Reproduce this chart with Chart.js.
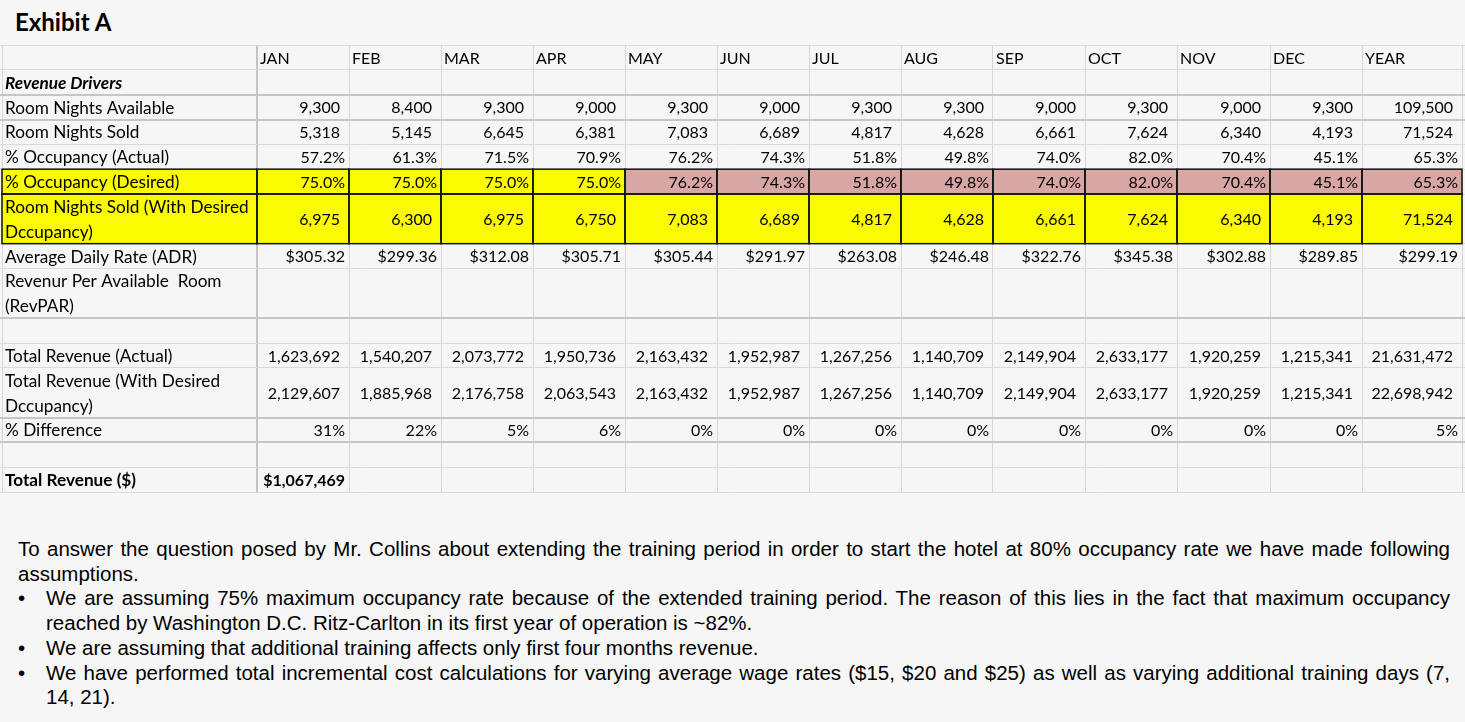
<!DOCTYPE html>
<html>
<head>
<meta charset="utf-8">
<script src="https://cdn.jsdelivr.net/npm/chart.js@4.4.1/dist/chart.umd.min.js"></script>
<style>
  html, body { margin: 0; padding: 0; background: #f6f6f6; }
  body { width: 1465px; height: 722px; position: relative; overflow: hidden; }
  #title { position: absolute; left: 15px; top: 7px; font: bold 24px Lato, "Open Sans", sans-serif; color: #000; }
  #table { position: absolute; left: 0; top: 40px; width: 1465px; height: 460px; }
  #notes { position: absolute; left: 18px; top: 537px; width: 1432px;
    font: 20.5px "Liberation Sans", Arial, sans-serif; line-height: 24.7px; color: #000; }
  #notes .j { display: block; text-align: justify; text-align-last: justify; }
  #notes .l { display: block; text-align: left; }
  #notes .b { position: relative; padding-left: 28px; }
  #notes .b::before { content: "\2022"; position: absolute; left: 0; top: 0; }
</style>
</head>
<body>
<div id="title">Exhibit A</div>
<div id="table"><canvas id="chart"></canvas></div>
<div id="notes">
  <span class="j">To answer the question posed by Mr. Collins about extending the training period in order to start the hotel at 80% occupancy rate we have made following</span>
  <span class="l">assumptions.</span>
  <div class="b">
    <span class="j">We are assuming 75% maximum occupancy rate because of the extended training period. The reason of this lies in the fact that maximum occupancy</span>
    <span class="l">reached by Washington D.C. Ritz-Carlton in its first year of operation is ~82%.</span>
  </div>
  <div class="b"><span class="l">We are assuming that additional training affects only first four months revenue.</span></div>
  <div class="b">
    <span class="j">We have performed total incremental cost calculations for varying average wage rates ($15, $20 and $25) as well as varying additional training days (7,</span>
    <span class="l">14, 21).</span>
  </div>
</div>
<script>
const months = ["JAN", "FEB", "MAR", "APR", "MAY", "JUN", "JUL", "AUG", "SEP", "OCT", "NOV", "DEC", "YEAR"];
const roomNightsAvailable = [9300, 8400, 9300, 9000, 9300, 9000, 9300, 9300, 9000, 9300, 9000, 9300, 109500];
const roomNightsSold = [5318, 5145, 6645, 6381, 7083, 6689, 4817, 4628, 6661, 7624, 6340, 4193, 71524];
const occupancyActual = [57.2, 61.3, 71.5, 70.9, 76.2, 74.3, 51.8, 49.8, 74.0, 82.0, 70.4, 45.1, 65.3];
const occupancyDesired = [75.0, 75.0, 75.0, 75.0, 76.2, 74.3, 51.8, 49.8, 74.0, 82.0, 70.4, 45.1, 65.3];
const roomNightsSoldDesired = [6975, 6300, 6975, 6750, 7083, 6689, 4817, 4628, 6661, 7624, 6340, 4193, 71524];
const averageDailyRate = [305.32, 299.36, 312.08, 305.71, 305.44, 291.97, 263.08, 246.48, 322.76, 345.38, 302.88, 289.85, 299.19];
const revenueActual = [1623692, 1540207, 2073772, 1950736, 2163432, 1952987, 1267256, 1140709, 2149904, 2633177, 1920259, 1215341, 21631472];
const revenueDesired = [2129607, 1885968, 2176758, 2063543, 2163432, 1952987, 1267256, 1140709, 2149904, 2633177, 1920259, 1215341, 22698942];
const percentDifference = [31, 22, 5, 6, 0, 0, 0, 0, 0, 0, 0, 0, 5];
const totalRevenue = [1067469];

// ---- formatting ----
const intFmt = (v) => v.toLocaleString("en-US");
const pct1 = (v) => v.toFixed(1) + "%";
const pct0 = (v) => v + "%";
const usd = (v) => "$" + v.toFixed(2);
const usd0 = (v) => "$" + v.toLocaleString("en-US");

// ---- table layout (x in page pixels, y in row units) ----
const colEdges = [2, 257, 349, 441, 533, 625, 717, 809, 901, 993, 1085, 1177, 1270, 1362, 1462];
const YELLOW = "#fafa00";
const PINK = "#d9a6a6";

const rows = [
  { label: [""], span: 1, header: true },
  { label: ["Revenue Drivers"], span: 1, labelFont: "italic bold" },
  { label: ["Room Nights Available"], span: 1, values: roomNightsAvailable, fmt: intFmt, pad: 9 },
  { label: ["Room Nights Sold"], span: 1, values: roomNightsSold, fmt: intFmt, pad: 9 },
  { label: ["% Occupancy (Actual)"], span: 1, values: occupancyActual, fmt: pct1, pad: 4 },
  { label: ["% Occupancy (Desired)"], span: 1, values: occupancyDesired, fmt: pct1, pad: 4, fill: YELLOW, altFill: PINK, altFrom: 4 },
  { label: ["Room Nights Sold (With Desired", "Dccupancy)"], span: 2, values: roomNightsSoldDesired, fmt: intFmt, pad: 9, fill: YELLOW },
  { label: ["Average Daily Rate (ADR)"], span: 1, values: averageDailyRate, fmt: usd, pad: 4 },
  { label: ["Revenur Per Available  Room", "(RevPAR)"], span: 2 },
  { label: [""], span: 1 },
  { label: ["Total Revenue (Actual)"], span: 1, values: revenueActual, fmt: intFmt, pad: 9 },
  { label: ["Total Revenue (With Desired", "Dccupancy)"], span: 2, values: revenueDesired, fmt: intFmt, pad: 9 },
  { label: ["% Difference"], span: 1, values: percentDifference, fmt: pct0, pad: 4 },
  { label: [""], span: 1 },
  { label: ["Total Revenue ($)"], span: 1, values: totalRevenue, fmt: usd0, pad: 4, labelFont: "bold", valueFont: "bold" },
];

let acc = 0;
rows.forEach((r) => { r.start = acc; acc += r.span; });
const totalUnits = acc;
const rowEdges = [0].concat(rows.map((r) => r.start + r.span));

const thickRows = [2, 3, 11, 15, 16];

const FONT = "Lato, 'Open Sans', sans-serif";
const LABEL_SIZE = 17.2;
const SIZE = 16;

const tablePlugin = {
  id: "tableCells",
  beforeDatasetsDraw(chart) {
    const { ctx, scales: { x, y } } = chart;
    ctx.save();
    rows.forEach((r) => {
      if (!r.fill) return;
      const top = y.getPixelForValue(r.start);
      const bottom = y.getPixelForValue(r.start + r.span);
      for (let c = 0; c < colEdges.length - 1; c++) {
        const left = x.getPixelForValue(colEdges[c]);
        const right = x.getPixelForValue(colEdges[c + 1]);
        ctx.fillStyle = r.altFill && c - 1 >= r.altFrom ? r.altFill : r.fill;
        ctx.fillRect(left, top, right - left, bottom - top);
      }
    });
    ctx.restore();
  },
  afterDatasetsDraw(chart) {
    const { ctx, scales: { x, y } } = chart;
    ctx.save();
    // black borders round the highlighted cells
    ctx.strokeStyle = "#111";
    ctx.lineWidth = 1.5;
    rows.forEach((r) => {
      if (!r.fill) return;
      const top = y.getPixelForValue(r.start);
      const bottom = y.getPixelForValue(r.start + r.span);
      for (let c = 0; c < colEdges.length - 1; c++) {
        const left = x.getPixelForValue(colEdges[c]);
        const right = x.getPixelForValue(colEdges[c + 1]);
        ctx.strokeRect(left, top, right - left, bottom - top);
      }
    });
    // texts
    ctx.fillStyle = "#000";
    ctx.textBaseline = "middle";
    rows.forEach((r) => {
      const top = y.getPixelForValue(r.start);
      const bottom = y.getPixelForValue(r.start + r.span);
      const mid = (top + bottom) / 2 + 1;
      ctx.textAlign = "left";
      ctx.font = (r.labelFont || "") + " " + LABEL_SIZE + "px " + FONT;
      const lh = (bottom - top) / r.label.length;
      r.label.forEach((t, i) => {
        ctx.fillText(t, x.getPixelForValue(colEdges[0]) + 3, top + lh * (i + 0.5) + 1);
      });
      if (r.header) {
        ctx.font = SIZE + "px " + FONT;
        months.forEach((m, c) => {
          ctx.fillText(m, x.getPixelForValue(colEdges[c + 1]) + 3, mid);
        });
      }
      if (r.values) {
        ctx.textAlign = "right";
        ctx.font = (r.valueFont || "") + " " + SIZE + "px " + FONT;
        r.values.forEach((v, c) => {
          ctx.fillText(r.fmt(v), x.getPixelForValue(colEdges[c + 2]) - r.pad, mid);
        });
      }
    });
    ctx.restore();
  },
};

new Chart(document.getElementById("chart"), {
  type: "scatter",
  data: { datasets: [] },
  options: {
    responsive: true,
    maintainAspectRatio: false,
    animation: false,
    events: [],
    layout: { padding: { top: 5, bottom: 8, left: 0, right: 0 } },
    plugins: { legend: { display: false }, tooltip: { enabled: false } },
    scales: {
      x: {
        type: "linear",
        min: 0,
        max: 1465,
        afterBuildTicks: (scale) => { scale.ticks = colEdges.map((v) => ({ value: v })); },
        ticks: { display: false },
        border: { display: false },
        grid: {
          drawTicks: false,
          color: (ctx) => (ctx.tick.value === 257 ? "#c4c4c4" : "#d6d6d6"),
          lineWidth: (ctx) => (ctx.tick.value === 257 ? 2 : 1),
        },
      },
      y: {
        type: "linear",
        min: 0,
        max: totalUnits,
        reverse: true,
        afterBuildTicks: (scale) => { scale.ticks = rowEdges.map((v) => ({ value: v })); },
        ticks: { display: false },
        border: { display: false },
        grid: {
          drawTicks: false,
          color: (ctx) => (thickRows.includes(ctx.tick.value) ? "#c6c6c6" : "#dadada"),
          lineWidth: (ctx) => (thickRows.includes(ctx.tick.value) ? 2 : 1),
        },
      },
    },
  },
  plugins: [tablePlugin],
});
</script>
</body>
</html>
